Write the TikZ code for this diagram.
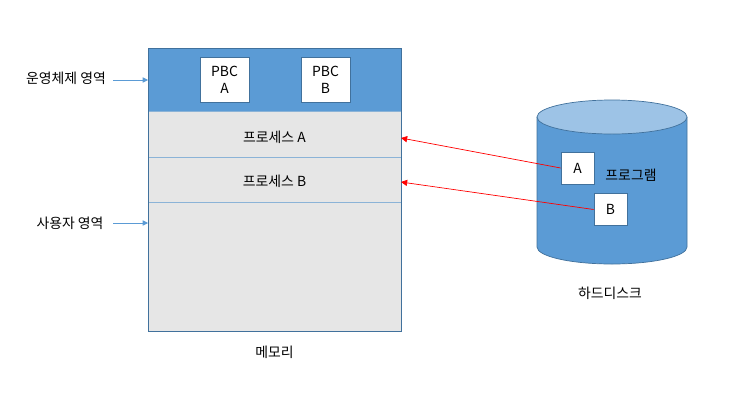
\documentclass[tikz,border=0pt]{standalone}
\usepackage{fontspec}
\setmainfont{Noto Sans CJK KR}
\usetikzlibrary{arrows.meta,positioning}
\definecolor{osblue}{HTML}{5B9BD5}
\definecolor{edgeblue}{HTML}{41719C}
\definecolor{lightblue}{HTML}{9DC3E6}
\definecolor{usergray}{HTML}{E6E6E6}

\begin{document}
\begin{tikzpicture}[
      x=0.02cm, y=0.02cm,
      font=\fontsize{7.9}{9.5}\selectfont,
      pbc/.style={draw=edgeblue, fill=white, minimum width=0.98cm, minimum height=0.9cm,
          align=center, inner sep=0pt},
      prog/.style={draw=edgeblue, fill=white, minimum width=0.66cm, minimum height=0.64cm,
          inner sep=0pt},
      band/.style={draw=lightblue!80!edgeblue, fill=usergray},
      lbl/.style={inner sep=1pt},
      blarr/.style={-{Triangle[length=3pt, width=3pt]}, draw=osblue},
      rdarr/.style={-{Triangle[length=3.5pt, width=3.5pt]}, draw=red},
    ]
    \useasboundingbox (0,0) rectangle (750,414);

    % memory
    \fill[usergray] (148,83) rectangle (401,366);
    \fill[osblue] (148,303) rectangle (401,366);
    \draw[band] (148,257) rectangle (401,303);
    \draw[band] (148,212) rectangle (401,257);
    \draw[draw=edgeblue] (148,83) rectangle (401,366);
    \coordinate (osin) at (148,334);
    \coordinate (userin) at (148,191);
    \coordinate (pain) at (401,276);
    \coordinate (pbin) at (401,232);

    \node[pbc] (pbca) at (224.5,334.5) {PBC\\A};
    \node[pbc] (pbcb) at (325.5,334.5) {PBC\\B};
    \node[lbl] (proca) at (274.5,277) {프로세스 A};
    \node[lbl] (procb) at (274.5,233) {프로세스 B};
    \node[lbl] (mem) at (274.5,62) {메모리};

    \node[lbl] (oslbl) at (66,336) {운영체제 영역};
    \node[lbl] (userlbl) at (70,191) {사용자 영역};
    \draw[blarr] (113,334) -- (osin);
    \draw[blarr] (113,191) -- (userin);

    % hard disk
    \fill[osblue, draw=edgeblue] (537,297) -- (537,167)
      arc[start angle=180, end angle=360, x radius=75, y radius=17] -- (687,297);
    \draw[fill=lightblue, draw=edgeblue] (612,297) ellipse [x radius=75, y radius=17];
    \node[lbl] (disk) at (610,121) {하드디스크};
    \node[prog] (proga) at (577.5,246) {A};
    \node[prog] (progb) at (610.5,204.5) {B};
    \node[lbl] (program) at (631,239) {프로그램};

    \draw[rdarr] (proga.west) -- (pain);
    \draw[rdarr] (progb.west) -- (pbin);
  \end{tikzpicture}
\end{document}
